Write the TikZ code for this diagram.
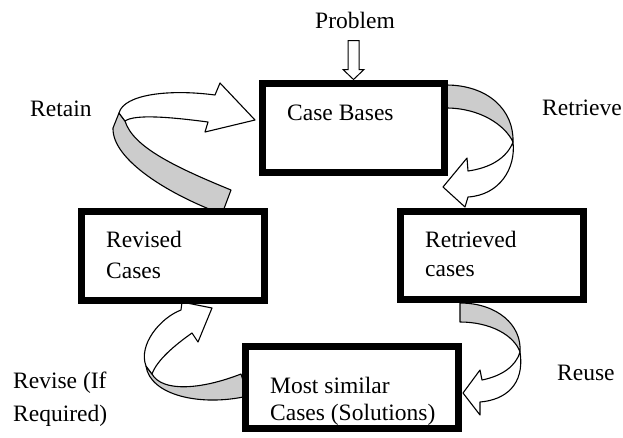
\documentclass[tikz,border=0pt]{standalone}
\usepackage{fontspec}
\setmainfont{Liberation Serif}
\begin{document}
\begin{tikzpicture}[x=1pt,y=-1pt,
  box/.style={draw, line width=7pt, rectangle, inner sep=0pt, fill=white},
  lbl/.style={anchor=base west, inner sep=0pt, font=\fontsize{23.5}{28}\selectfont},
  ribbon/.style={draw, line width=1.1pt, line join=round},
  back/.style={ribbon, fill=black!20},
  front/.style={ribbon, fill=white}]
\useasboundingbox (0,0) rectangle (623,437);

% ribbon arrows (drawn first, boxes on top)
% Retain
\draw[back] (222,214) -- (231,190) .. controls (175,167) and (133,147) .. (125,121) -- (119,113) -- (113,128) .. controls (112,160) and (170,195) .. (222,214) -- cycle;
\draw[front] (119,113) .. controls (124,94) and (170,89) .. (215,95) -- (220,83) -- (255,120) -- (205,132) -- (208,122) .. controls (170,117) and (135,114) .. (125,121) -- cycle;
% Retrieve
\draw[back] (446,85) .. controls (488,85) and (514,110) .. (513,142) .. controls (505,125) and (480,108) .. (446,108) -- cycle;
\draw[front] (513,142) .. controls (516,168) and (500,195) .. (468,197) -- (465,207) -- (443,187) -- (467,158) -- (468,171) .. controls (490,168) and (507,158) .. (513,142) -- cycle;
% Reuse
\draw[back] (460,303) .. controls (497,303) and (522,325) .. (520,352) .. controls (514,335) and (490,322) .. (460,322) -- cycle;
\draw[front] (520,352) .. controls (525,385) and (505,400) .. (480,402) -- (480,415) -- (463,393) -- (480,370) -- (482,380) .. controls (502,376) and (516,366) .. (520,352) -- cycle;
% Revise
\draw[back] (241,374) .. controls (200,390) and (162,392) .. (152,374) -- (146,366) .. controls (150,395) and (200,407) .. (248,396) -- cycle;
\draw[front] (146,366) .. controls (138,345) and (160,318) .. (181,310) -- (182,302) -- (212,308) -- (198,342) -- (192,333) .. controls (175,345) and (157,360) .. (152,374) -- cycle;

% boxes
\node[box, minimum width=182pt, minimum height=89pt] (cb) at (353.5,127.5) {};
\node[box, minimum width=183pt, minimum height=88pt] (rt) at (492,255.5) {};
\node[box, minimum width=183pt, minimum height=89pt] (rv) at (173,256) {};
\node[box, minimum width=213pt, minimum height=82pt] (ms) at (352,387.5) {};

% texts
\node[lbl] (problem) at (315,28) {Problem};
\node[lbl] (cbt) at (287,120) {Case Bases};
\node[lbl] (retrieve) at (542,115) {Retrieve};
\node[lbl] (retain) at (30,116) {Retain};
\node[lbl] (rt1) at (425,247) {Retrieved};
\node[lbl] (rt2) at (425,276) {cases};
\node[lbl] (rv1) at (106,247) {Revised};
\node[lbl] (rv2) at (106,278) {Cases};
\node[lbl] (ms1) at (270,393) {Most similar};
\node[lbl] (ms2) at (270,420) {Cases (Solutions)};
\node[lbl] (revise1) at (13,388) {Revise (If};
\node[lbl] (revise2) at (13,421) {Required)};
\node[lbl] (reuse) at (557,380) {Reuse};

% problem arrow
\draw[line width=1pt, fill=white, line join=miter] (cb.north) -- ++(-10.5,-10) -- ++(5,0) -- ++(0,-29) -- ++(11,0) -- ++(0,29) -- ++(5,0) -- cycle;
\end{tikzpicture}
\end{document}
